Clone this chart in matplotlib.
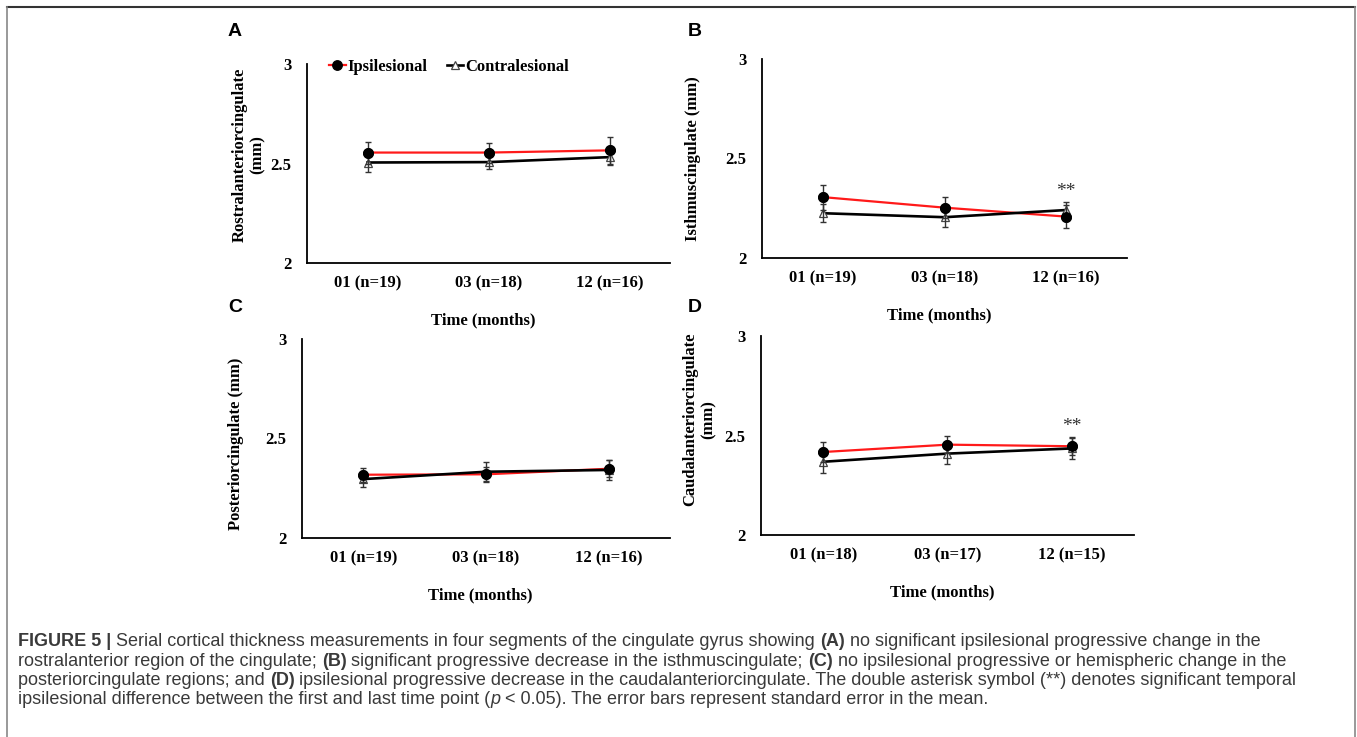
import matplotlib.pyplot as plt
from matplotlib.lines import Line2D

# time points (x categories) per panel
cats_abc = ["01 (n=19)", "03 (n=18)", "12 (n=16)"]
cats_d = ["01 (n=18)", "03 (n=17)", "12 (n=15)"]

# mean thickness (mm) and standard error
ipsi_a = [2.555, 2.555, 2.566]
ipsi_a_err = [0.055, 0.050, 0.068]
contra_a = [2.505, 2.507, 2.532]
contra_a_err = [0.050, 0.035, 0.040]

ipsi_b = [2.306, 2.253, 2.208]
ipsi_b_err = [0.063, 0.052, 0.058]
contra_b = [2.225, 2.205, 2.241]
contra_b_err = [0.045, 0.050, 0.042]

ipsi_c = [2.318, 2.320, 2.348]
ipsi_c_err = [0.035, 0.037, 0.042]
contra_c = [2.296, 2.333, 2.342]
contra_c_err = [0.040, 0.047, 0.050]

ipsi_d = [2.417, 2.454, 2.446]
ipsi_d_err = [0.049, 0.043, 0.043]
contra_d = [2.368, 2.409, 2.435]
contra_d_err = [0.057, 0.052, 0.055]

yticks = [2, 2.5, 3]
ytick_labels = ["2", "2.5", "3"]

SERIF = "Liberation Serif"
SANS = "Liberation Sans"
TXT = 12

fig = plt.figure(figsize=(13.57, 7.37), dpi=100)
W, H = 1357, 737


def px_axes(left, top, right, bottom):
    return fig.add_axes([left / W, 1 - bottom / H, (right - left) / W, (bottom - top) / H])


def panel(ax, cats, ipsi, ipsi_err, contra, contra_err, ylabel, ylab_y, star=None):
    x = list(range(len(cats)))
    ax.plot(x, ipsi, color="#ff1a1a", lw=1.6, zorder=2, label="Ipsilesional",
            marker="o", ms=6.8, mfc="black", mec="black")
    ax.plot(x, contra, color="black", lw=1.9, zorder=3, label="Contralesional",
            marker="^", ms=6, mfc="white", mec="#444444", mew=0.9)
    ax.errorbar(x, ipsi, yerr=ipsi_err, fmt="none", ecolor="#333333",
                elinewidth=1.0, capsize=2, capthick=1.0, zorder=4)
    ax.errorbar(x, contra, yerr=contra_err, fmt="none", ecolor="#333333",
                elinewidth=1.0, capsize=2, capthick=1.0, zorder=4)
    # circles on top
    ax.plot(x, ipsi, ls="none", marker="o", ms=6.8, color="black", zorder=5)
    ax.set_xlim(-0.5, len(cats) - 0.5)
    ax.set_ylim(2, 3)
    ax.set_xticks(x)
    ax.set_xticklabels(cats, fontfamily=SERIF, fontweight="bold", fontsize=TXT)
    ax.set_yticks(yticks)
    ax.set_yticklabels(ytick_labels, fontfamily=SERIF, fontweight="bold", fontsize=TXT)
    ax.tick_params(length=0)
    ax.tick_params(axis="x", pad=9)
    ax.tick_params(axis="y", pad=11)
    for s in ["top", "right"]:
        ax.spines[s].set_visible(False)
    for s in ["left", "bottom"]:
        ax.spines[s].set_linewidth(1.3)
    ax.set_xlabel("Time (months)", fontfamily=SERIF, fontweight="bold", fontsize=TXT)
    ax.xaxis.set_label_coords(0.485, -0.25)
    ax.set_ylabel(ylabel, fontfamily=SERIF, fontweight="bold", fontsize=TXT,
                  va="center", ha="center", linespacing=1.15)
    ax.yaxis.set_label_coords(ylab_y[0], ylab_y[1])
    if star is not None:
        ax.text(x[-1], star, "**", ha="center", va="center", fontfamily=SERIF,
                fontsize=14, color="#333333")


ax_a = px_axes(307, 64, 670, 263)
panel(ax_a, cats_abc, ipsi_a, ipsi_a_err, contra_a, contra_a_err,
      "Rostralanteriorcingulate\n(mm)", (-0.16, 0.545))
ax_a.legend(loc="center left", bbox_to_anchor=(0.038, 0.985), ncol=2, frameon=False,
            handlelength=1.0, handletextpad=0.1, columnspacing=1.15, borderpad=0,
            prop={"family": SERIF, "weight": "bold", "size": TXT})

ax_b = px_axes(762, 59, 1127, 258)
panel(ax_b, cats_abc, ipsi_b, ipsi_b_err, contra_b, contra_b_err,
      "Isthmuscingulate (mm)", (-0.19, 0.5), star=2.335)

ax_c = px_axes(302, 339, 670, 538)
panel(ax_c, cats_abc, ipsi_c, ipsi_c_err, contra_c, contra_c_err,
      "Posteriorcingulate (mm)", (-0.18, 0.475))

ax_d = px_axes(761, 336, 1134, 535)
panel(ax_d, cats_d, ipsi_d, ipsi_d_err, contra_d, contra_d_err,
      "Caudalanteriorcingulate\n(mm)", (-0.165, 0.58), star=2.545)

# panel letters
for letter, lx, ly in [("A", 228, 31), ("B", 688, 31), ("C", 228, 307), ("D", 688, 307)]:
    fig.text(lx / W, 1 - ly / H, letter, fontfamily=SANS, fontweight="bold",
             fontsize=14, ha="left", va="center")

# frame around the figure
fig.add_artist(Line2D([7 / W, 1355 / W], [1 - 7 / H, 1 - 7 / H], color="#333333", lw=1.5))
fig.add_artist(Line2D([7 / W, 7 / W], [0, 1 - 7 / H], color="#888888", lw=1.2))
fig.add_artist(Line2D([1355 / W, 1355 / W], [0, 1 - 7 / H], color="#888888", lw=1.2))

# caption, drawn piece by piece so bold / italic parts flow inline
caption = [
    [("FIGURE 5 |", "bold", "normal"),
     (" Serial cortical thickness measurements in four segments of the cingulate gyrus showing ", "normal", "normal"),
     ("(A)", "bold", "normal"),
     (" no significant ipsilesional progressive change in the", "normal", "normal")],
    [("rostralanterior region of the cingulate; ", "normal", "normal"),
     ("(B)", "bold", "normal"),
     (" significant progressive decrease in the isthmuscingulate; ", "normal", "normal"),
     ("(C)", "bold", "normal"),
     (" no ipsilesional progressive or hemispheric change in the", "normal", "normal")],
    [("posteriorcingulate regions; and ", "normal", "normal"),
     ("(D)", "bold", "normal"),
     (" ipsilesional progressive decrease in the caudalanteriorcingulate. The double asterisk symbol (**) denotes significant temporal", "normal", "normal")],
    [("ipsilesional difference between the first and last time point (", "normal", "normal"),
     ("p", "normal", "italic"),
     (" < 0.05). The error bars represent standard error in the mean.", "normal", "normal")],
]
baselines = [646, 665.5, 685, 704.5]

renderer = fig.canvas.get_renderer()
for line, base in zip(caption, baselines):
    xpos = 18
    for text, weight, style in line:
        t = fig.text(xpos / W, 1 - base / H, text, fontfamily=SANS, fontweight=weight,
                     fontstyle=style, fontsize=12.95, color="#3a3a3a",
                     ha="left", va="baseline")
        bb = t.get_window_extent(renderer=renderer)
        xpos += bb.width

fig.savefig("out.png", dpi=100)
